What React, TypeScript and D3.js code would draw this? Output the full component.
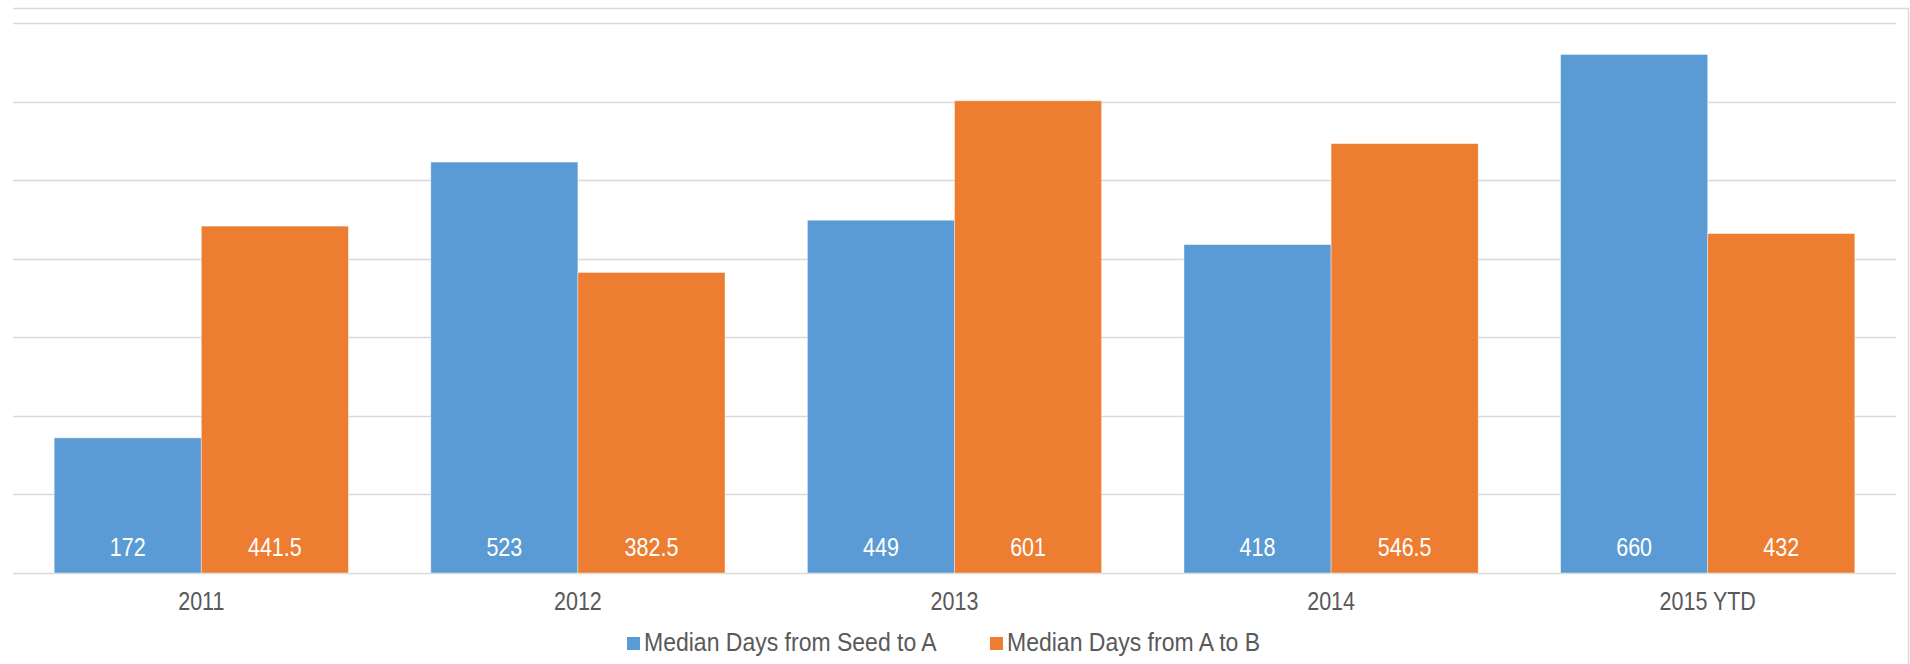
import { useEffect, useRef } from 'react';
import * as d3 from 'd3';

const categories = ['2011', '2012', '2013', '2014', '2015 YTD'];
const seedToA = [172, 523, 449, 418, 660];
const aToB = [441.5, 382.5, 601, 546.5, 432];
const seriesNames = ['Median Days from Seed to A', 'Median Days from A to B'];
const yTicks = [0, 100, 200, 300, 400, 500, 600, 700];

const COLORS = ['#5B9BD5', '#ED7D31'];
const FONT = '"Liberation Sans", Arial, sans-serif';
// labels in the source are tall and slightly condensed
const SQUEEZE = 0.86;

export default function App() {
  const svgRef = useRef<SVGSVGElement>(null);

  useEffect(() => {
    const svg = d3.select(svgRef.current);
    if (!svg.node()) return;
    svg.selectAll('*').remove();

    const height = 664;
    const plot = { left: 13, right: 1896, top: 23, bottom: 573 };

    const x = d3.scaleBand().domain(categories).range([plot.left, plot.right]).paddingInner(0).paddingOuter(0);
    const inner = d3
      .scaleBand()
      .domain(['0', '1'])
      .range([0, x.bandwidth()])
      .paddingOuter(0.28)
      .paddingInner(0);
    const y = d3.scaleLinear().domain([0, 700]).range([plot.bottom, plot.top]);

    // chart border (top + right visible)
    svg
      .append('path')
      .attr('d', `M${plot.left},8.5 H1908.5 V${height}`)
      .attr('fill', 'none')
      .attr('stroke', '#D9D9D9')
      .attr('stroke-width', 1.5);

    // gridlines
    svg
      .append('g')
      .selectAll('line')
      .data(yTicks)
      .join('line')
      .attr('x1', plot.left)
      .attr('x2', plot.right)
      .attr('y1', (d) => Math.round(y(d)) + 0.5)
      .attr('y2', (d) => Math.round(y(d)) + 0.5)
      .attr('stroke', '#D9D9D9')
      .attr('stroke-width', 1.3);

    const rows = categories.map((c, i) => ({ c, vals: [seedToA[i], aToB[i]] }));

    const groups = svg
      .append('g')
      .selectAll('g')
      .data(rows)
      .join('g')
      .attr('transform', (d) => `translate(${x(d.c)},0)`);

    groups
      .selectAll('rect')
      .data((d) => d.vals.map((v, k) => ({ v, k })))
      .join('rect')
      .attr('x', (d) => inner(String(d.k))!)
      .attr('width', inner.bandwidth())
      .attr('y', (d) => y(d.v))
      .attr('height', (d) => plot.bottom - y(d.v))
      .attr('fill', (d) => COLORS[d.k])
      .attr('stroke', '#ffffff')
      .attr('stroke-opacity', 0.5)
      .attr('stroke-width', 0.8);

    groups
      .selectAll('g.val')
      .data((d) => d.vals.map((v, k) => ({ v, k })))
      .join('g')
      .attr('class', 'val')
      .attr(
        'transform',
        (d) => `translate(${inner(String(d.k))! + inner.bandwidth() / 2},556) scale(${SQUEEZE},1)`,
      )
      .append('text')
      .attr('text-anchor', 'middle')
      .attr('font-family', FONT)
      .attr('font-size', 25)
      .attr('fill', '#ffffff')
      .text((d) => String(d.v));

    // category axis labels
    svg
      .append('g')
      .selectAll('g')
      .data(categories)
      .join('g')
      .attr('transform', (d) => `translate(${x(d)! + x.bandwidth() / 2},610) scale(${SQUEEZE},1)`)
      .append('text')
      .attr('text-anchor', 'middle')
      .attr('font-family', FONT)
      .attr('font-size', 25)
      .attr('fill', '#595959')
      .text((d) => d);

    // legend
    const legendX = [627, 990];
    const legend = svg
      .append('g')
      .selectAll('g')
      .data(seriesNames)
      .join('g')
      .attr('transform', (_, i) => `translate(${legendX[i]},0)`);
    legend
      .append('rect')
      .attr('x', 0)
      .attr('y', 637)
      .attr('width', 13)
      .attr('height', 13)
      .attr('fill', (_, i) => COLORS[i]);
    legend
      .append('g')
      .attr('transform', `translate(17,651) scale(0.92,1)`)
      .append('text')
      .attr('font-family', FONT)
      .attr('font-size', 25)
      .attr('fill', '#595959')
      .text((d) => d);
  }, []);

  return (
    <div style={{ position: 'absolute', left: 0, top: 0, width: 1910, height: 664, background: '#fff' }}>
      <svg ref={svgRef} width={1910} height={664} style={{ display: 'block' }} />
    </div>
  );
}
